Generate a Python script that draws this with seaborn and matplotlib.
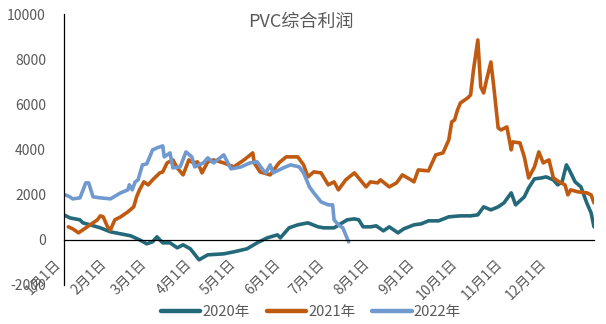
import numpy as np
import pandas as pd
import matplotlib
matplotlib.use("Agg")
import matplotlib.pyplot as plt
import seaborn as sns

# ---------------- data (day of year, profit) ----------------
days_2020 = [0, 4, 11, 13, 18, 25, 32, 39, 46, 52, 57, 61, 64, 68, 73, 78, 82, 87, 93, 99,
             110, 117, 126, 133, 140, 147, 149, 155, 161, 168, 175, 179, 186, 195, 200, 203,
             206, 211, 215, 220, 224, 230, 234, 241, 246, 251, 258, 265, 273, 280, 285, 289,
             294, 299, 303, 308, 311, 317, 320, 324, 329, 332, 337, 340, 343, 346, 348, 352,
             356, 360, 363, 365]
profit_2020 = [1106, 973, 885, 752, 664, 531, 354, 266, 177, 0, -177, -88, 133, -133, -133,
               -354, -221, -398, -885, -664, -620, -531, -398, -133, 88, 221, 88, 531, 664,
               752, 575, 531, 531, 885, 929, 885, 575, 575, 620, 398, 575, 310, 487, 664, 708,
               841, 841, 1018, 1062, 1062, 1106, 1460, 1327, 1460, 1637, 2080, 1549, 1903,
               2301, 2699, 2743, 2788, 2655, 2434, 2567, 3319, 3097, 2567, 2345, 1637, 1195, 575]

days_2021 = [3, 6, 10, 16, 23, 25, 27, 30, 32, 35, 39, 44, 48, 50, 52, 55, 58, 61, 66, 68,
             71, 75, 78, 82, 86, 89, 92, 95, 99, 103, 110, 117, 124, 130, 131, 135, 142, 148,
             153, 161, 165, 168, 172, 177, 182, 186, 189, 194, 200, 204, 208, 211, 216, 218,
             224, 229, 233, 239, 241, 244, 251, 256, 261, 265, 267, 269, 271, 273, 278, 280,
             282, 285, 287, 289, 291, 294, 296, 299, 301, 305, 308, 309, 314, 317, 320, 324,
             327, 330, 334, 337, 341, 345, 347, 349, 354, 360, 363, 365]
profit_2021 = [575, 487, 310, 575, 885, 1062, 1018, 575, 442, 885, 1018, 1239, 1460, 1903,
               2213, 2567, 2434, 2655, 2965, 3009, 3407, 3540, 3186, 2876, 3540, 3407, 3452,
               2965, 3452, 3540, 3407, 3230, 3540, 3850, 3407, 3009, 2876, 3407, 3673, 3673,
               3319, 2788, 3009, 2965, 2434, 2567, 2213, 2655, 2965, 2655, 2345, 2567, 2522,
               2655, 2345, 2522, 2876, 2655, 2567, 3097, 3053, 3761, 3850, 4425, 5221, 5310,
               5752, 6062, 6283, 6416, 7522, 8850, 6770, 6505, 7080, 7876, 6770, 4956, 4867,
               5000, 3983, 4336, 4292, 3673, 2743, 3230, 3894, 3407, 3540, 2743, 2567, 2434,
               1991, 2213, 2124, 2080, 1991, 1637]

days_2022 = [1, 4, 6, 11, 15, 17, 20, 25, 32, 39, 44, 45, 47, 49, 51, 54, 57, 61, 64, 68,
             69, 73, 75, 80, 84, 88, 90, 96, 99, 103, 110, 115, 122, 128, 133, 137, 139, 142,
             144, 151, 156, 162, 165, 169, 172, 177, 182, 185, 186, 189, 192, 194, 196]
profit_2022 = [1991, 1903, 1814, 1858, 2522, 2522, 1903, 1858, 1814, 2080, 2213, 2434, 2213,
               2567, 2655, 3319, 3363, 3983, 4071, 4160, 3673, 3850, 3186, 3230, 3894, 3673,
               3230, 3407, 3629, 3407, 3761, 3142, 3230, 3407, 3452, 3097, 2965, 3319, 2965,
               3186, 3319, 3230, 2965, 2345, 2080, 1681, 1549, 1549, 885, 664, 531, 221, -88]

years = ["2020年", "2021年", "2022年"]
month_days = [0, 31, 59, 90, 120, 151, 181, 212, 243, 273, 304, 334]
month_labels = ["1月1日", "2月1日", "3月1日", "4月1日", "5月1日", "6月1日",
                "7月1日", "8月1日", "9月1日", "10月1日", "11月1日", "12月1日"]
y_ticks = [-2000, 0, 2000, 4000, 6000, 8000, 10000]
title = "PVC综合利润"

colors = ["#24697A", "#C05A10", "#7099D0"]

df = pd.concat([
    pd.DataFrame({"day": days_2020, "profit": profit_2020, "year": years[0]}),
    pd.DataFrame({"day": days_2021, "profit": profit_2021, "year": years[1]}),
    pd.DataFrame({"day": days_2022, "profit": profit_2022, "year": years[2]}),
], ignore_index=True)

# ---------------- plotting ----------------
sns.set_theme(style="white")
plt.rcParams["font.family"] = ["Noto Sans CJK SC", "DejaVu Sans"]

W, H = 606, 324
fig = plt.figure(figsize=(W / 100, H / 100), dpi=100)
ax = fig.add_axes([64 / W, 1 - 285 / H, 530 / W, (285 - 14) / H])

sns.lineplot(data=df, x="day", y="profit", hue="year", palette=colors,
             linewidth=2.6, estimator=None, sort=False, ax=ax)

ax.set_xlim(0, 365)
ax.set_ylim(-2000, 10000)
ax.set_xlabel("")
ax.set_ylabel("")

for s in ["top", "right"]:
    ax.spines[s].set_visible(False)
ax.spines["bottom"].set_position(("data", 0))
for s in ["bottom", "left"]:
    ax.spines[s].set_color("black")
    ax.spines[s].set_linewidth(0.9)

ax.tick_params(axis="both", direction="in", length=4, width=0.9, color="black",
               labelcolor="#595959", labelsize=10)
ax.tick_params(axis="y", pad=13)
ax.tick_params(axis="x", pad=12)

ax.set_yticks(y_ticks)
ax.set_yticklabels([str(v) for v in y_ticks])
ax.set_xticks(month_days)
ax.set_xticklabels(month_labels)
for lbl in ax.get_xticklabels():
    lbl.set_rotation(45)
    lbl.set_ha("right")
    lbl.set_va("top")

fig.text(301 / W, 1 - 22 / H, title, ha="center", va="center",
         fontsize=13, color="#595959")

handles, labels = ax.get_legend_handles_labels()
leg = ax.legend(handles, labels, loc="center", bbox_to_anchor=(311 / W, 1 - 312 / H),
                bbox_transform=fig.transFigure, ncol=3, frameon=False,
                fontsize=10.5, handlelength=2.7, handletextpad=0.15,
                columnspacing=1.15, borderpad=0.1)
for line in leg.get_lines():
    line.set_linewidth(3.2)
for t in leg.get_texts():
    t.set_color("#595959")

fig.savefig("out.png", dpi=100)
